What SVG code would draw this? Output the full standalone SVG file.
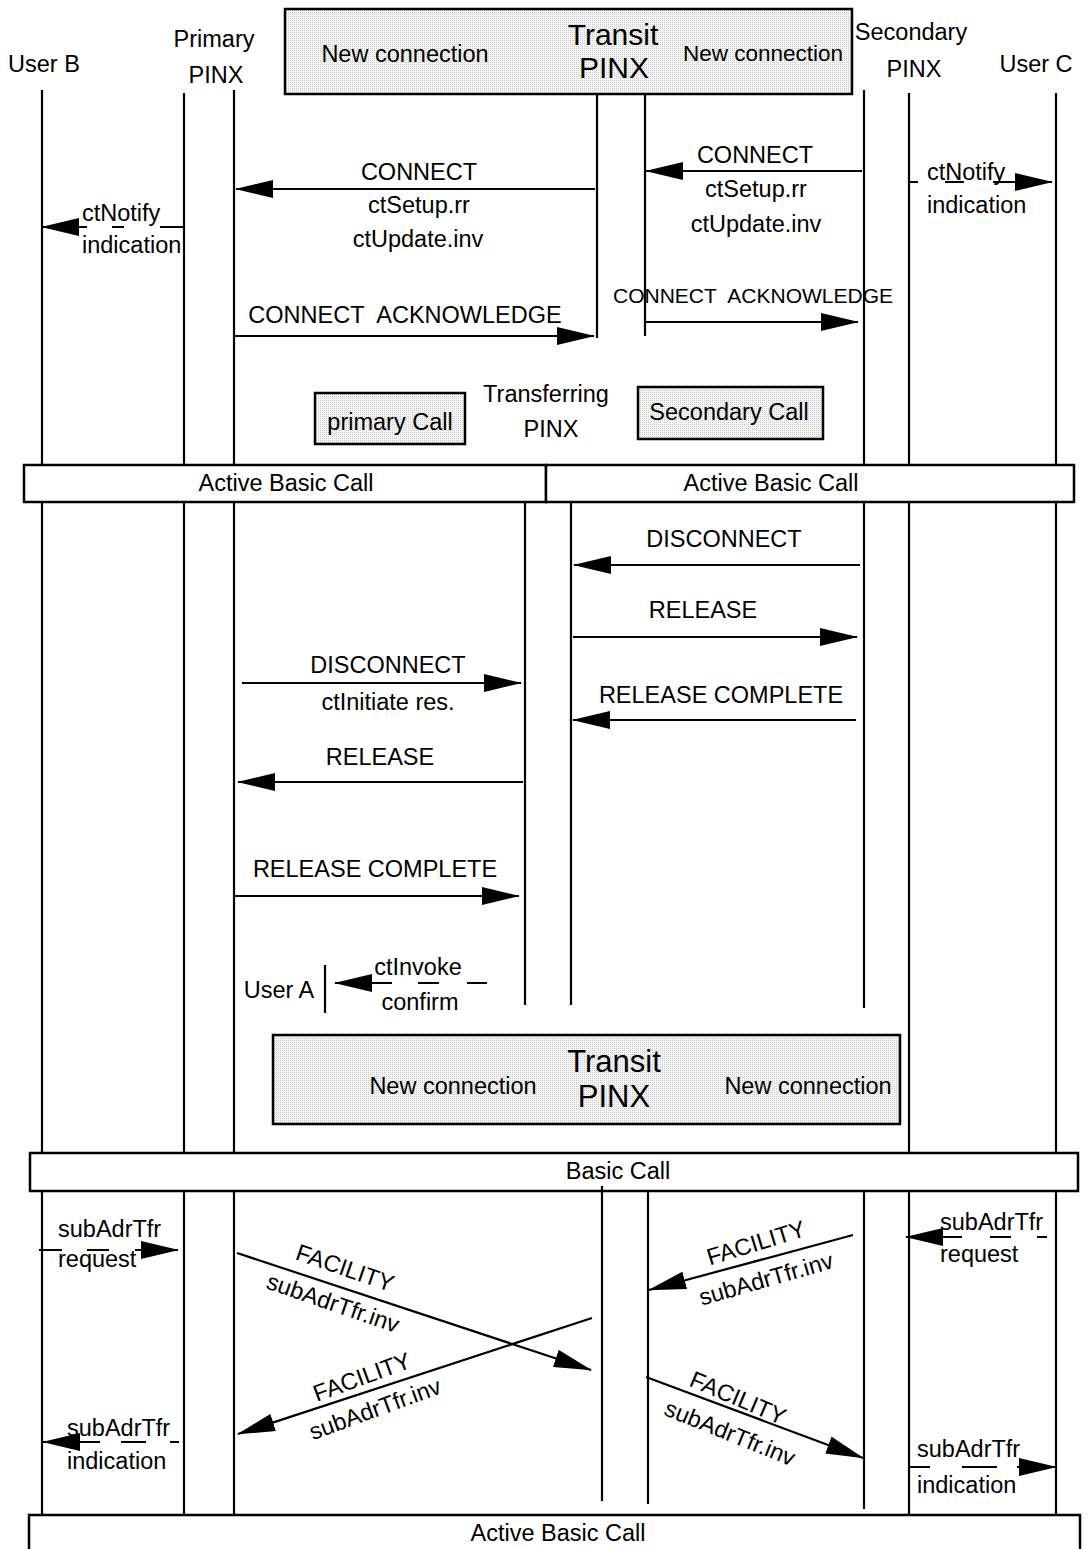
<svg xmlns="http://www.w3.org/2000/svg" width="1088" height="1549" viewBox="0 0 1088 1549">
<style>
.t{font-family:"Liberation Sans",Arial,Helvetica,sans-serif;font-size:23.5px;fill:#000}
.m{text-anchor:middle}
.life{stroke:#000;stroke-width:2.2;fill:none}
.msg{stroke:#000;stroke-width:2.2;fill:none;marker-end:url(#ah)}
.box{fill:url(#dots);stroke:#000;stroke-width:2.5}
.bar{fill:#fff;stroke:#000;stroke-width:2.5}
</style>
<defs>
<pattern id="dots" width="2" height="2" patternUnits="userSpaceOnUse"><rect width="2" height="2" fill="#f5f5f5"/><rect width="1" height="1" fill="#cdcdcd"/></pattern>
<marker id="ah" markerUnits="userSpaceOnUse" viewBox="0 0 38 18" markerWidth="38" markerHeight="18" refX="37" refY="9" orient="auto"><path d="M0,0 L38,9 L0,18 Z" fill="#000"/></marker>
</defs>
<rect width="1088" height="1549" fill="#fff"/>

<g id="userB">
<text class="t m" x="44" y="72">User B</text>
<path class="life" d="M42,90 V465 M42,502 V1153 M42,1191 V1515"/>
</g>
<g id="primaryPINX">
<text class="t m" x="214" y="47">Primary</text>
<text class="t m" x="216" y="83">PINX</text>
<path class="life" d="M184,93 V465 M184,502 V1153 M184,1191 V1515 M234,90 V465 M234,502 V1153 M234,1191 V1515"/>
</g>
<g id="transitPINXTop">
<rect class="box" x="285" y="9" width="567" height="85"/>
<text class="t m" x="405" y="62">New connection</text>
<text class="t m" x="613" y="45" style="font-size:30px">Transit</text>
<text class="t m" x="614" y="78" style="font-size:30px">PINX</text>
<text class="t m" x="763" y="61" style="font-size:22.5px">New connection</text>
<path class="life" d="M597,95 V338 M645,95 V336"/>
</g>
<g id="secondaryPINX">
<text class="t m" x="911" y="40">Secondary</text>
<text class="t m" x="914" y="77">PINX</text>
<path class="life" d="M864,90 V465 M864,502 V1008 M864,1191 V1509 M909,93 V465 M909,502 V1153 M909,1191 V1515"/>
</g>
<g id="userC">
<text class="t m" x="1036" y="72">User C</text>
<path class="life" d="M1056,93 V465 M1056,502 V1153 M1056,1191 V1515"/>
</g>
<g id="primaryCall">
<rect class="box" x="315" y="393" width="150" height="51"/>
<text class="t m" x="390" y="430">primary Call</text>
</g>
<g id="transferringPINX">
<text class="t m" x="546" y="402">Transferring</text>
<text class="t m" x="551" y="437">PINX</text>
<path class="life" d="M525,502 V1005 M571,502 V1005"/>
</g>
<g id="secondaryCall">
<rect class="box" x="638" y="387" width="185" height="52"/>
<text class="t m" x="729" y="420">Secondary Call</text>
</g>
<g id="activeBasicCall1">
<rect class="bar" x="24" y="465" width="522" height="37"/>
<rect class="bar" x="546" y="465" width="528" height="37"/>
<text class="t m" x="286" y="491">Active Basic Call</text>
<text class="t m" x="771" y="491">Active Basic Call</text>
</g>
<g id="userA">
<text class="t m" x="279" y="998">User A</text>
<path class="life" d="M325,965 V1013"/>
</g>
<g id="basicCall">
<rect class="bar" x="30" y="1153" width="1048" height="38"/>
<text class="t m" x="618" y="1179">Basic Call</text>
</g>
<g id="transitPINXBottom">
<rect class="box" x="273" y="1035" width="627" height="89"/>
<text class="t m" x="453" y="1094">New connection</text>
<text class="t m" x="614" y="1072" style="font-size:31px">Transit</text>
<text class="t m" x="614" y="1107" style="font-size:31px">PINX</text>
<text class="t m" x="808" y="1094">New connection</text>
<path class="life" d="M602,1186 V1501 M648,1191 V1504"/>
</g>
<g id="activeBasicCall2">
<rect class="bar" x="29" y="1515" width="1051" height="50"/>
<text class="t m" x="558" y="1541">Active Basic Call</text>
</g>

<g id="connectors">
<path class="msg" d="M595,189 H236"/>
<path class="msg" d="M862,171 H646"/>
<path class="msg" d="M184,227 H160 M124,227 H112 M87,227 H42"/>
<path class="msg" d="M909,182 H918 M945,182 H964 M993,182 H1052"/>
<path class="msg" d="M234,336 H594"/>
<path class="msg" d="M645,322 H858"/>
<path class="msg" d="M860,565 H574"/>
<path class="msg" d="M573,637 H857"/>
<path class="msg" d="M242,683 H521"/>
<path class="msg" d="M856,720 H573"/>
<path class="msg" d="M523,782 H238"/>
<path class="msg" d="M235,896 H519"/>
<path class="msg" d="M487,983 H467 M439,983 H418 M392,983 H335"/>
<path class="msg" d="M39,1250 H62 M87,1250 H109 M135,1250 H178"/>
<path class="msg" d="M1047,1237 H1037 M1011,1237 H990 M962,1237 H906"/>
<path class="msg" d="M237,1253 L591,1370"/>
<path class="msg" d="M592,1318 L238,1434"/>
<path class="msg" d="M853,1235 L649,1290"/>
<path class="msg" d="M646,1377 L863,1458"/>
<path class="msg" d="M179,1442 H170 M146,1442 H121 M100,1442 H43"/>
<path class="msg" d="M910,1467 H930 M962,1467 H997 M1017,1467 H1056"/>
</g>

<g id="labels">
<text class="t m" x="419" y="180">CONNECT</text>
<text class="t m" x="419" y="213">ctSetup.rr</text>
<text class="t m" x="418" y="247">ctUpdate.inv</text>
<text class="t m" x="755" y="163">CONNECT</text>
<text class="t m" x="756" y="197">ctSetup.rr</text>
<text class="t m" x="756" y="232">ctUpdate.inv</text>
<text class="t" x="82" y="221">ctNotify</text>
<text class="t" x="82" y="253">indication</text>
<text class="t" x="927" y="180">ctNotify</text>
<text class="t" x="927" y="213">indication</text>
<text class="t m" x="405" y="323">CONNECT&#160; ACKNOWLEDGE</text>
<text class="t m" x="753" y="303" style="font-size:21px">CONNECT&#160; ACKNOWLEDGE</text>
<text class="t m" x="724" y="547">DISCONNECT</text>
<text class="t m" x="703" y="618">RELEASE</text>
<text class="t m" x="388" y="673">DISCONNECT</text>
<text class="t m" x="388" y="710">ctInitiate res.</text>
<text class="t m" x="721" y="703">RELEASE COMPLETE</text>
<text class="t m" x="380" y="765">RELEASE</text>
<text class="t m" x="375" y="877">RELEASE COMPLETE</text>
<text class="t m" x="418" y="975">ctInvoke</text>
<text class="t m" x="420" y="1010">confirm</text>
<text class="t" x="58" y="1237">subAdrTfr</text>
<text class="t" x="58" y="1267">request</text>
<text class="t" x="940" y="1230">subAdrTfr</text>
<text class="t" x="940" y="1262">request</text>
<text class="t m" transform="translate(345,1268) rotate(19)" x="0" y="8">FACILITY</text>
<text class="t m" transform="translate(333,1303) rotate(19)" x="0" y="8">subAdrTfr.inv</text>
<text class="t m" transform="translate(362,1377) rotate(-20)" x="0" y="8">FACILITY</text>
<text class="t m" transform="translate(375,1409) rotate(-20)" x="0" y="8">subAdrTfr.inv</text>
<text class="t m" transform="translate(756,1243) rotate(-17)" x="0" y="8">FACILITY</text>
<text class="t m" transform="translate(766,1279) rotate(-16)" x="0" y="8">subAdrTfr.inv</text>
<text class="t m" transform="translate(738,1398) rotate(23)" x="0" y="8">FACILITY</text>
<text class="t m" transform="translate(730,1433) rotate(22)" x="0" y="8">subAdrTfr.inv</text>
<text class="t" x="67" y="1436">subAdrTfr</text>
<text class="t" x="67" y="1469">indication</text>
<text class="t" x="917" y="1457">subAdrTfr</text>
<text class="t" x="917" y="1493">indication</text>
</g>
</svg>
